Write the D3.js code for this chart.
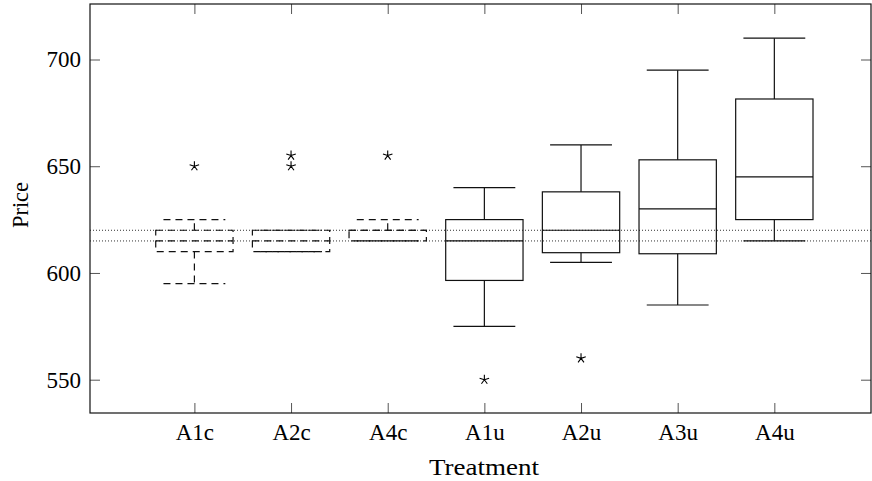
<!DOCTYPE html>
<html>
<head>
<meta charset="utf-8">
<script src="https://cdn.jsdelivr.net/npm/d3@7"></script>
<style>
  html, body { margin: 0; padding: 0; background: #fff; }
  svg { display: block; }
  text { font-family: "Liberation Serif", "DejaVu Serif", serif; fill: #000; }
</style>
</head>
<body>
<svg id="chart" width="872" height="481"></svg>
<script>
// ---- data ----
const categories     = ["A1c", "A2c", "A4c", "A1u", "A2u", "A3u", "A4u"];
const lowerWhisker   = [595, 610, 615, 575, 605, 585, 615];
const lowerQuartile  = [610, 610, 615, 596.5, 609.5, 609, 625];
const medianValues   = [615, 615, 620, 615, 620, 630, 645];
const upperQuartile  = [620, 620, 620, 625, 638, 653, 681.5];
const upperWhisker   = [625, 620, 625, 640, 660, 695, 710];
const outliers       = [[650], [650, 655], [655], [550], [560], [], []];
const referenceLines = [615, 620];
const yTickValues    = [550, 600, 650, 700];
const xLabel = "Treatment";
const yLabel = "Price";

// ---- layout ----
const plotLeft = 90, plotRight = 871, plotTop = 4, plotBottom = 413;
const svg = d3.select("#chart");

const x = d3.scaleLinear().domain([-0.08, 8]).range([plotLeft, plotRight]);
const y = d3.scaleLinear().domain([534.4, 726]).range([plotBottom, plotTop]);
const pos = categories.map((c, i) => i + 1);

const boxHalf = 0.4, capHalf = 0.32;
const ink = "#111";

// ---- reference lines ----
svg.append("g").selectAll("line").data(referenceLines).join("line")
  .attr("x1", plotLeft).attr("x2", plotRight)
  .attr("y1", d => y(d)).attr("y2", d => y(d))
  .attr("stroke", "#333").attr("stroke-width", 1)
  .attr("stroke-dasharray", "1,2");

// ---- boxes ----
const boxes = categories.map((c, i) => ({
  name: c, p: pos[i], lw: lowerWhisker[i], q1: lowerQuartile[i], med: medianValues[i],
  q3: upperQuartile[i], uw: upperWhisker[i], out: outliers[i], dashed: c.endsWith("c")
}));

const gBox = svg.append("g");
boxes.forEach(b => {
  const g = gBox.append("g")
    .attr("fill", "none").attr("stroke", ink).attr("stroke-width", 1.2)
    .attr("stroke-dasharray", b.dashed ? "7,5" : null);
  g.append("rect")
    .attr("x", x(b.p - boxHalf)).attr("y", y(b.q3))
    .attr("width", x(b.p + boxHalf) - x(b.p - boxHalf))
    .attr("height", y(b.q1) - y(b.q3));
  g.append("line").attr("x1", x(b.p - boxHalf)).attr("x2", x(b.p + boxHalf))
    .attr("y1", y(b.med)).attr("y2", y(b.med));
  g.append("line").attr("x1", x(b.p)).attr("x2", x(b.p))
    .attr("y1", y(b.q3)).attr("y2", y(b.uw));
  g.append("line").attr("x1", x(b.p)).attr("x2", x(b.p))
    .attr("y1", y(b.q1)).attr("y2", y(b.lw));
  g.append("line").attr("x1", x(b.p - capHalf)).attr("x2", x(b.p + capHalf))
    .attr("y1", y(b.uw)).attr("y2", y(b.uw));
  g.append("line").attr("x1", x(b.p - capHalf)).attr("x2", x(b.p + capHalf))
    .attr("y1", y(b.lw)).attr("y2", y(b.lw));
  b.out.forEach(v => {
    const cx = x(b.p), cy = y(v), r = 5;
    let d = "";
    for (let k = 0; k < 5; k++) {
      const a = -Math.PI / 2 + k * 2 * Math.PI / 5;
      d += `M${cx},${cy}L${cx + r * Math.cos(a)},${cy + r * Math.sin(a)}`;
    }
    svg.append("path").attr("d", d).attr("fill", "none")
      .attr("stroke", "#000").attr("stroke-width", 1.1);
  });
});

// ---- axes ----
const fontSize = 23;
const xAxis = d3.axisBottom(x).tickValues(pos).tickFormat((d, i) => categories[i])
  .tickSize(-10).tickSizeOuter(0).tickPadding(11);
const gx = svg.append("g").attr("transform", `translate(0,${plotBottom})`).call(xAxis);

const xAxisTop = d3.axisTop(x).tickValues(pos).tickFormat("").tickSize(-10).tickSizeOuter(0);
const gxt = svg.append("g").attr("transform", `translate(0,${plotTop})`).call(xAxisTop);

const yAxis = d3.axisLeft(y).tickValues(yTickValues).tickFormat(d3.format("d"))
  .tickSize(-10).tickSizeOuter(0).tickPadding(9);
const gy = svg.append("g").attr("transform", `translate(${plotLeft},0)`).call(yAxis);

const yAxisRight = d3.axisRight(y).tickValues(yTickValues).tickFormat("").tickSize(-10).tickSizeOuter(0);
const gyr = svg.append("g").attr("transform", `translate(${plotRight},0)`).call(yAxisRight);

[gx, gxt, gy, gyr].forEach(g => {
  g.select(".domain").remove();
  g.selectAll(".tick line").attr("stroke", "#555").attr("stroke-width", 1);
  g.selectAll("text").attr("font-family", "Liberation Serif, DejaVu Serif, serif")
    .attr("font-size", fontSize).attr("fill", "#000");
});

// ---- frame ----
svg.append("rect").attr("x", plotLeft).attr("y", plotTop)
  .attr("width", plotRight - plotLeft).attr("height", plotBottom - plotTop)
  .attr("fill", "none").attr("stroke", ink).attr("stroke-width", 1.2);

// ---- axis titles ----
svg.append("text").attr("x", 484).attr("y", 475)
  .attr("text-anchor", "middle").attr("font-size", fontSize)
  .attr("textLength", 110).attr("lengthAdjust", "spacingAndGlyphs").text(xLabel);
svg.append("text").attr("transform", `translate(28,205) rotate(-90)`)
  .attr("text-anchor", "middle").attr("font-size", fontSize)
  .attr("textLength", 46).attr("lengthAdjust", "spacingAndGlyphs").text(yLabel);
</script>
</body>
</html>
